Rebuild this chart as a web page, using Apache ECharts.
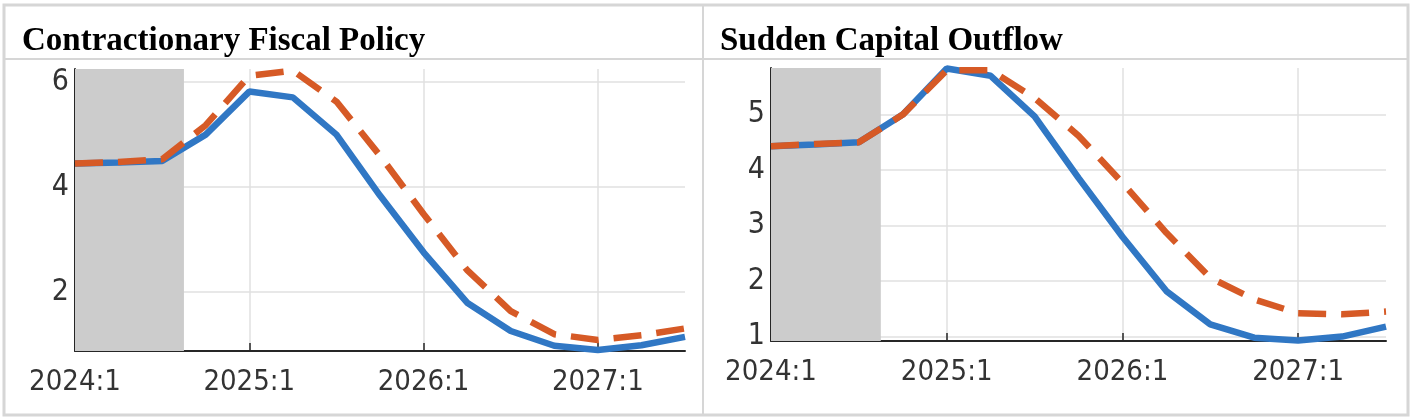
<!DOCTYPE html>
<html>
<head>
<meta charset="utf-8">
<title>Fiscal policy vs capital outflow</title>
<script src="https://cdn.jsdelivr.net/npm/echarts@6/dist/echarts.min.js"></script>
<style>
    html, body { margin: 0; padding: 0; background: #fff; }
    #chart { width: 1414px; height: 420px; }
</style>
</head>
<body>
<div id="chart"></div>
<script>
// quarters on the x axis, 0 = 2024:1
const quarters = ['2024:1', '2024:2', '2024:3', '2024:4',
                  '2025:1', '2025:2', '2025:3', '2025:4',
                  '2026:1', '2026:2', '2026:3', '2026:4',
                  '2027:1', '2027:2', '2027:3'];
const panelTitles = ['Contractionary Fiscal Policy', 'Sudden Capital Outflow'];
const historyEnd = 2.5; // shaded part (data already observed)

// left panel
const fiscalBase = [4.45, 4.47, 4.5, 5.0, 5.82, 5.71, 5.0, 3.84, 2.76, 1.8, 1.26, 0.98, 0.9, 0.99, 1.15];
const fiscalShock = [4.45, 4.48, 4.53, 5.18, 6.12, 6.22, 5.63, 4.6, 3.49, 2.42, 1.64, 1.2, 1.09, 1.18, 1.31];
// right panel
const outflowBase = [4.43, 4.46, 4.5, 5.0, 5.83, 5.7, 4.97, 3.86, 2.8, 1.82, 1.22, 0.98, 0.93, 1.0, 1.18];
const outflowShock = [4.43, 4.47, 4.5, 5.0, 5.8, 5.8, 5.3, 4.62, 3.77, 2.87, 2.06, 1.67, 1.42, 1.4, 1.45];

const yRanges = [[0.88, 6.25, 2], [0.92, 5.84, 1]];

const BLUE = '#3077c4';
const ORANGE = '#d65a26';
const GRID_LINE = '#e0e0e0';
const AXIS_COLOR = '#262626';
const LABEL_FONT = "'DejaVu Sans Condensed', 'DejaVu Sans', sans-serif";
const FRAME = '#d6d6d6';

function toXY(arr) {
    return arr.map((v, i) => [i, v]);
}

function makeXAxis(gridIndex) {
    return {
        type: 'value',
        gridIndex: gridIndex,
        min: 0,
        max: quarters.length - 1,
        interval: 4,
        axisLine: { lineStyle: { color: AXIS_COLOR, width: 2 } },
        axisTick: { inside: true, length: 8, lineStyle: { color: AXIS_COLOR, width: 1.5 } },
        axisLabel: {
            formatter: (v) => quarters[v] || '',
            showMaxLabel: false,
            color: '#333',
            fontSize: 29,
            fontFamily: LABEL_FONT,
            margin: 17
        },
        splitLine: { show: true, showMaxLine: false, lineStyle: { color: GRID_LINE, width: 1.5 } }
    };
}

function makeYAxis(gridIndex) {
    const r = yRanges[gridIndex];
    return {
        type: 'value',
        gridIndex: gridIndex,
        min: r[0],
        max: r[1],
        splitNumber: gridIndex === 0 ? 3 : 5,
        minInterval: r[2],
        maxInterval: r[2],
        axisLine: { show: true, lineStyle: { color: AXIS_COLOR, width: 2 } },
        axisTick: { show: true, inside: true, length: 5, lineStyle: { color: AXIS_COLOR, width: 1.5 } },
        axisLabel: {
            showMinLabel: false,
            showMaxLabel: false,
            color: '#333',
            fontSize: 30,
            fontFamily: LABEL_FONT,
            margin: 6
        },
        splitLine: { show: true, showMinLine: false, showMaxLine: false, lineStyle: { color: GRID_LINE, width: 1.5 } }
    };
}

function makeSeries(gridIndex, base, shock) {
    return [
        {
            type: 'line',
            xAxisIndex: gridIndex,
            yAxisIndex: gridIndex,
            data: toXY(base),
            symbol: 'none',
            lineStyle: { color: BLUE, width: 6.5 },
            markArea: {
                silent: true,
                itemStyle: { color: '#cccccc' },
                data: [[{ xAxis: 0 }, { xAxis: historyEnd }]]
            },
            z: 3
        },
        {
            type: 'line',
            xAxisIndex: gridIndex,
            yAxisIndex: gridIndex,
            data: toXY(shock),
            symbol: 'none',
            lineStyle: { color: ORANGE, width: 6.5, type: [28, 15] },
            z: 4
        }
    ];
}

document.addEventListener('DOMContentLoaded', () => {
    const chart = echarts.init(document.getElementById('chart'));

    const titleStyle = {
        fontFamily: "'Liberation Serif', 'Times New Roman', serif",
        fontWeight: 'bold',
        fontSize: 33,
        color: '#000'
    };

    const option = {
        animation: false,
        title: [
            { text: panelTitles[0], left: 22, top: 25, padding: 0, textStyle: titleStyle },
            { text: panelTitles[1], left: 720, top: 25, padding: 0, textStyle: titleStyle }
        ],
        grid: [
            { left: 75, top: 69, width: 610, height: 282 },
            { left: 771, top: 68, width: 615, height: 273 }
        ],
        xAxis: [makeXAxis(0), makeXAxis(1)],
        yAxis: [makeYAxis(0), makeYAxis(1)],
        series: makeSeries(0, fiscalBase, fiscalShock).concat(makeSeries(1, outflowBase, outflowShock)),
        // table frame around the two panels
        graphic: [
            { type: 'rect', shape: { x: 4, y: 5, width: 1404, height: 410 }, style: { fill: 'none', stroke: FRAME, lineWidth: 3 }, silent: true },
            { type: 'line', shape: { x1: 4, y1: 59, x2: 1408, y2: 59 }, style: { stroke: FRAME, lineWidth: 2 }, silent: true },
            { type: 'line', shape: { x1: 703, y1: 5, x2: 703, y2: 415 }, style: { stroke: FRAME, lineWidth: 2 }, silent: true }
        ]
    };

    chart.setOption(option);
});
</script>
</body>
</html>
